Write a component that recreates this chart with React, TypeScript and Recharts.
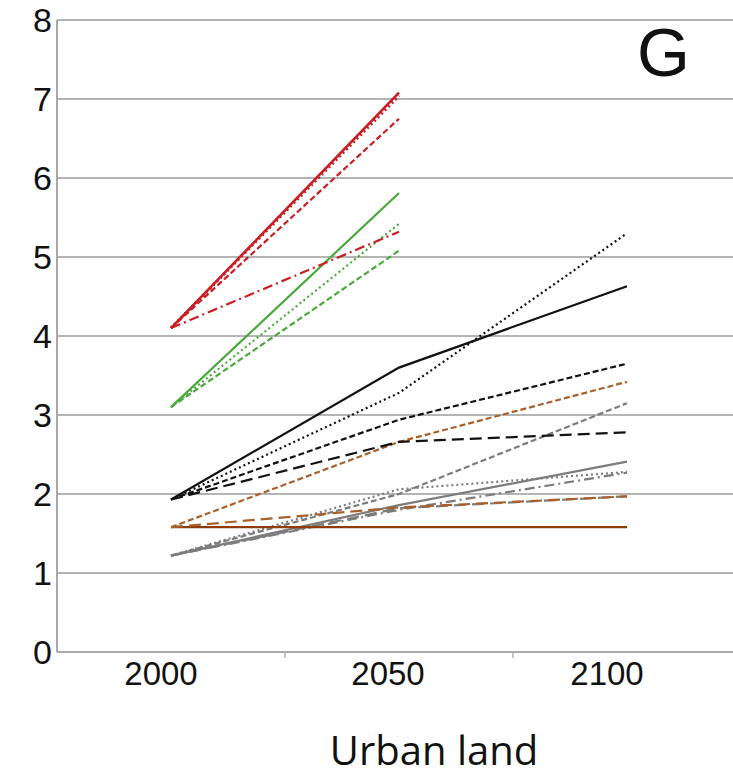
import { LineChart, Line, XAxis, YAxis, CartesianGrid } from "recharts";

// years on the x axis
const years = [2000, 2050, 2100];
const yTicks = [0, 1, 2, 3, 4, 5, 6, 7, 8];
const bandTicks = [2000, 2025, 2050, 2075, 2100];

// red group (ends at 2050)
const redSolid = [4.1, 7.08, null];
const redDotted = [4.1, 7.04, null];
const redDashed = [4.1, 6.75, null];
const redDashDot = [4.1, 5.32, null];

// green group (ends at 2050)
const greenSolid = [3.1, 5.81, null];
const greenDotted = [3.1, 5.42, null];
const greenDashed = [3.1, 5.08, null];

// black group
const blackSolid = [1.93, 3.6, 4.63];
const blackDotted = [1.93, 3.28, 5.3];
const blackDashed = [1.93, 2.94, 3.65];
const blackLongDash = [1.93, 2.66, 2.78];

// brown group
const brownSolid = [1.58, 1.58, 1.58];
const brownDashed = [1.58, 2.66, 3.42];
const brownLongDash = [1.58, 1.83, 1.97];

// gray group
const graySolid = [1.22, 1.86, 2.41];
const grayDashed = [1.22, 2.0, 3.15];
const grayDotted = [1.22, 2.06, 2.28];
const grayDashDot = [1.22, 1.8, 2.27];
const grayLongDash = [1.22, 1.82, 1.97];

const seriesValues: Record<string, (number | null)[]> = {
  redSolid, redDotted, redDashed, redDashDot,
  greenSolid, greenDotted, greenDashed,
  blackSolid, blackDotted, blackDashed, blackLongDash,
  brownSolid, brownDashed, brownLongDash,
  graySolid, grayDashed, grayDotted, grayDashDot, grayLongDash,
};

const data = years.map((year, i) => {
  const row: Record<string, number | null> = { year };
  Object.entries(seriesValues).forEach(([k, v]) => { row[k] = v[i]; });
  return row;
});

const RED = "#c81e24";
const GREEN = "#4aa83c";
const BLACK = "#111111";
const BROWN = "#8e3c0c";
const BROWN_D = "#a8602a";
const GRAY = "#7c7c7c";

const DOT = "2 3";
const DASH = "6 3";
const LONG = "12 6";
const DASHDOT = "10 4 2 4";

const lines: { key: string; color: string; dash?: string; width?: number }[] = [
  { key: "grayLongDash", color: GRAY, dash: LONG },
  { key: "grayDashDot", color: GRAY, dash: DASHDOT },
  { key: "grayDotted", color: GRAY, dash: DOT },
  { key: "grayDashed", color: GRAY, dash: DASH },
  { key: "graySolid", color: GRAY },
  { key: "brownSolid", color: BROWN },
  { key: "brownLongDash", color: BROWN_D, dash: LONG },
  { key: "brownDashed", color: BROWN_D, dash: DASH },
  { key: "blackLongDash", color: BLACK, dash: LONG },
  { key: "blackDashed", color: BLACK, dash: DASH },
  { key: "blackDotted", color: BLACK, dash: DOT },
  { key: "blackSolid", color: BLACK },
  { key: "greenDashed", color: GREEN, dash: DASH },
  { key: "greenDotted", color: GREEN, dash: DOT },
  { key: "greenSolid", color: GREEN },
  { key: "redDashDot", color: RED, dash: DASHDOT },
  { key: "redDashed", color: RED, dash: DASH },
  { key: "redDotted", color: RED, dash: DOT, width: 3 },
  { key: "redSolid", color: RED, width: 2.6 },
];

const labelShift: Record<number, number> = { 2000: -10, 2050: -11, 2100: -20 };

function XTick(props: any) {
  const { x, y, payload } = props;
  const v = payload.value as number;
  if (!years.includes(v)) {
    return <line x1={x} x2={x} y1={y} y2={y + 6} stroke="#b0b0b0" strokeWidth={1.5} />;
  }
  return (
    <text x={x + (labelShift[v] ?? 0)} y={y + 33} textAnchor="middle"
      fontFamily="Liberation Sans, Arial, sans-serif" fontSize={33} fill="#111">
      {v}
    </text>
  );
}

export default function App() {
  return (
    <div style={{ position: "absolute", left: 0, top: 0, width: 733, height: 783, overflow: "hidden", background: "#fff" }}>
      <LineChart width={741} height={783} data={data}
        margin={{ top: 20, right: 0, left: 0, bottom: 71 }}>
        <CartesianGrid vertical={false} stroke="#b4b4b4" strokeWidth={2} />
        <XAxis dataKey="year" type="number" domain={[1975, 2125]} ticks={bandTicks}
          height={60} tickSize={0} tickMargin={0} tickLine={false}
          stroke="#a8a8a8" strokeWidth={2} tick={<XTick />} interval={0} />
        <YAxis type="number" domain={[0, 8]} ticks={yTicks} width={57}
          tickLine={false} tickSize={0} tickMargin={5} stroke="#a8a8a8" strokeWidth={2}
          tick={{ fontSize: 34, fill: "#111", fontFamily: "Liberation Sans, Arial, sans-serif" }} />
        {lines.map((l) => (
          <Line key={l.key} dataKey={l.key} type="linear" stroke={l.color}
            strokeWidth={l.width ?? 2.2} strokeDasharray={l.dash} dot={false}
            activeDot={false} isAnimationActive={false} connectNulls={false} />
        ))}
      </LineChart>
      <div style={{ position: "absolute", left: 637, top: 18, fontFamily: "Liberation Sans, Arial, sans-serif", fontSize: 68, lineHeight: "68px", color: "#111" }}>
        G
      </div>
      <div style={{ position: "absolute", left: 0, width: 868, top: 726, textAlign: "center", fontFamily: "'Open Sans', sans-serif", fontSize: 40, lineHeight: "48px", color: "#111" }}>
        Urban land
      </div>
    </div>
  );
}
